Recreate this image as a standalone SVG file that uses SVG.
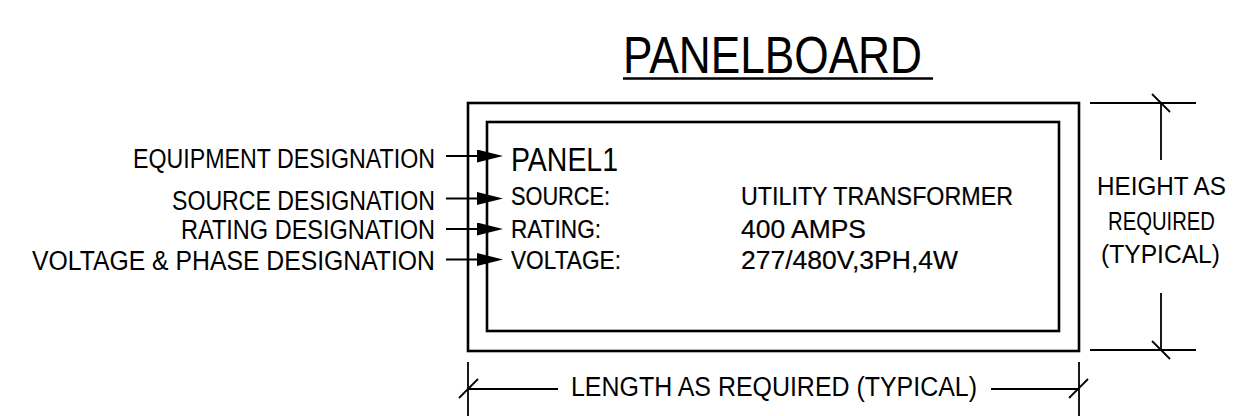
<svg xmlns="http://www.w3.org/2000/svg" width="1245" height="416" viewBox="0 0 1245 416">
<style>
text{font-family:"Liberation Sans",Arial,sans-serif;fill:#000;}
.lbl{font-size:27px;}
.hd{font-size:25px;text-anchor:middle;}
.pt{font-size:25.5px;stroke:#000;stroke-width:0.2px;}
.box{fill:none;stroke:#000;stroke-width:2.6;}
.thin{fill:none;stroke:#000;stroke-width:1.8;}
</style>
<defs>
<marker id="arr" viewBox="0 0 26 13" refX="13" refY="6.5" markerWidth="26" markerHeight="13" markerUnits="userSpaceOnUse" orient="auto">
<path d="M0,0 L26,6.5 L0,13 Z" fill="#000"/>
</marker>
</defs>
<rect width="1245" height="416" fill="#fff"/>
<g id="title">
<text x="623" y="72.5" font-size="52" textLength="299" lengthAdjust="spacingAndGlyphs">PANELBOARD</text>
<line x1="623" y1="78.5" x2="933" y2="78.5" stroke="#000" stroke-width="2.6"/>
</g>
<g id="panel">
<rect class="box" x="468" y="103" width="611" height="248"/>
<rect class="box" x="487" y="122" width="572" height="209"/>
<text x="511" y="170.5" font-size="33" textLength="107" lengthAdjust="spacingAndGlyphs">PANEL1</text>
<text class="pt" x="511" y="205" textLength="99" lengthAdjust="spacingAndGlyphs">SOURCE:</text>
<text class="pt" x="511" y="238" textLength="90" lengthAdjust="spacingAndGlyphs">RATING:</text>
<text class="pt" x="511" y="269" textLength="110" lengthAdjust="spacingAndGlyphs">VOLTAGE:</text>
<text class="pt" x="741" y="205" textLength="272" lengthAdjust="spacingAndGlyphs">UTILITY TRANSFORMER</text>
<text class="pt" x="741" y="238" textLength="125" lengthAdjust="spacingAndGlyphs">400 AMPS</text>
<text class="pt" x="741" y="268.5" textLength="217" lengthAdjust="spacingAndGlyphs">277/480V,3PH,4W</text>
</g>
<g id="labels">
<text class="lbl" x="133" y="168" textLength="302" lengthAdjust="spacingAndGlyphs">EQUIPMENT DESIGNATION</text>
<text class="lbl" x="172" y="210" textLength="263" lengthAdjust="spacingAndGlyphs">SOURCE DESIGNATION</text>
<text class="lbl" x="181" y="239" textLength="254" lengthAdjust="spacingAndGlyphs">RATING DESIGNATION</text>
<text class="lbl" x="32" y="270" textLength="403" lengthAdjust="spacingAndGlyphs">VOLTAGE &amp; PHASE DESIGNATION</text>
</g>
<g id="height-dim">
<text class="hd" x="1161.5" y="195" textLength="129" lengthAdjust="spacingAndGlyphs">HEIGHT AS</text>
<text class="hd" x="1161.5" y="229.5" textLength="107" lengthAdjust="spacingAndGlyphs">REQUIRED</text>
<text class="hd" x="1160.5" y="263" textLength="119" lengthAdjust="spacingAndGlyphs">(TYPICAL)</text>
</g>
<g id="length-dim">
<text class="lbl" x="571" y="396" textLength="406" lengthAdjust="spacingAndGlyphs">LENGTH AS REQUIRED (TYPICAL)</text>
</g>
<g id="connectors">
<line class="thin" x1="446" y1="156" x2="490" y2="156" marker-end="url(#arr)"/>
<line class="thin" x1="446" y1="198.5" x2="490" y2="198.5" marker-end="url(#arr)"/>
<line class="thin" x1="446" y1="229" x2="490" y2="229" marker-end="url(#arr)"/>
<line class="thin" x1="446" y1="259.5" x2="490" y2="259.5" marker-end="url(#arr)"/>
<line class="thin" x1="1090" y1="103" x2="1196" y2="103"/>
<line class="thin" x1="1090" y1="350" x2="1196" y2="350"/>
<line class="thin" x1="1161" y1="103" x2="1161" y2="160"/>
<line class="thin" x1="1161" y1="293" x2="1161" y2="350"/>
<line class="thin" x1="1152" y1="94" x2="1170" y2="112"/>
<line class="thin" x1="1152" y1="341" x2="1170" y2="359"/>
<line class="thin" x1="468" y1="362" x2="468" y2="416"/>
<line class="thin" x1="1079" y1="362" x2="1079" y2="416"/>
<line class="thin" x1="468" y1="389" x2="558" y2="389"/>
<line class="thin" x1="991" y1="389" x2="1079" y2="389"/>
<line class="thin" x1="459" y1="398" x2="478" y2="379"/>
<line class="thin" x1="1069" y1="398" x2="1088" y2="379"/>
</g>
</svg>
